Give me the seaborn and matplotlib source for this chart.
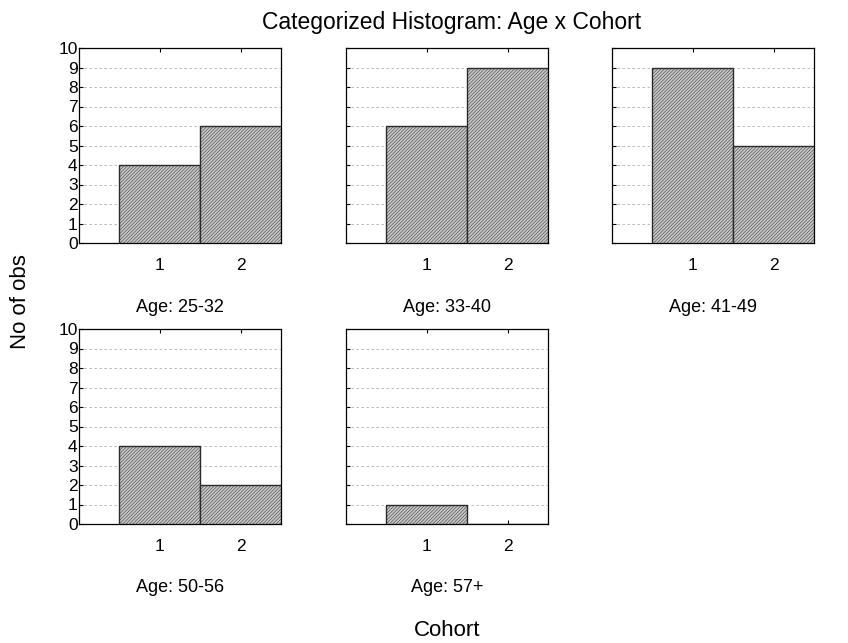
import matplotlib
matplotlib.use("Agg")
import matplotlib.pyplot as plt
import seaborn as sns
import pandas as pd

sns.set_style("white")
plt.rcParams['font.family'] = ['Liberation Sans', 'DejaVu Sans']
plt.rcParams['hatch.color'] = '#b4b4b4'
plt.rcParams['hatch.linewidth'] = 0.35
plt.rcParams['text.color'] = 'black'
plt.rcParams['xtick.color'] = 'black'
plt.rcParams['ytick.color'] = 'black'

age_groups = ["Age: 25-32", "Age: 33-40", "Age: 41-49", "Age: 50-56", "Age: 57+"]
cohorts = [1, 2]
counts = [[4, 6], [6, 9], [9, 5], [4, 2], [1, 0]]
y_ticks = list(range(0, 11))

W, H = 848, 643
fig = plt.figure(figsize=(W / 100, H / 100), dpi=100)

col_x = [79, 346, 612]
row_y = [48, 329]
pw, ph = 202, 195

for i, (grp, vals) in enumerate(zip(age_groups, counts)):
    r, c = divmod(i, 3)
    x0, y0 = col_x[c], row_y[r]
    ax = fig.add_axes([x0 / W, 1 - (y0 + ph) / H, pw / W, ph / H])
    df = pd.DataFrame({"Cohort": cohorts, "n": vals})
    sns.barplot(data=df, x="Cohort", y="n", native_scale=True, width=1.0,
                color="#c8c8c8", saturation=1, edgecolor="#2a2a2a",
                linewidth=1.0, hatch="//////////", ax=ax, zorder=3)
    ax.set_xlim(0, 2.5)
    ax.set_ylim(0, 10)
    ax.set_yticks(y_ticks)
    ax.set_xticks(cohorts)
    ax.set_xticklabels([str(v) for v in cohorts], fontsize=12.5)
    if c == 0:
        ax.set_yticklabels([str(v) for v in y_ticks], fontsize=12.5)
    else:
        ax.set_yticklabels([])
    ax.tick_params(axis='both', direction='in', length=3, width=0.8,
                   top=True, bottom=True, left=True, right=False)
    ax.tick_params(axis='x', pad=11)
    ax.tick_params(axis='y', pad=1)
    ax.yaxis.grid(True, linestyle=(0, (3, 3)), color='#b0b0b0', linewidth=0.6, zorder=0)
    ax.xaxis.grid(False)
    ax.set_axisbelow(True)
    for s in ax.spines.values():
        s.set_color('black')
        s.set_linewidth(0.9)
    ax.set_xlabel("")
    ax.set_ylabel("")
    ax.text(0.5, -(307 - 243) / ph, grp,
            transform=ax.transAxes, ha='center', va='center', fontsize=13)

fig.text(452 / W, 1 - 22 / H, "Categorized Histogram: Age x Cohort", ha='center', va='center', fontsize=16.5)
fig.text(21 / W, 1 - 302 / H, "No of obs", rotation=90, ha='center', va='center', fontsize=16)
fig.text(447 / W, 1 - 630 / H, "Cohort", ha='center', va='center', fontsize=16)

fig.savefig("out.png", dpi=100)
